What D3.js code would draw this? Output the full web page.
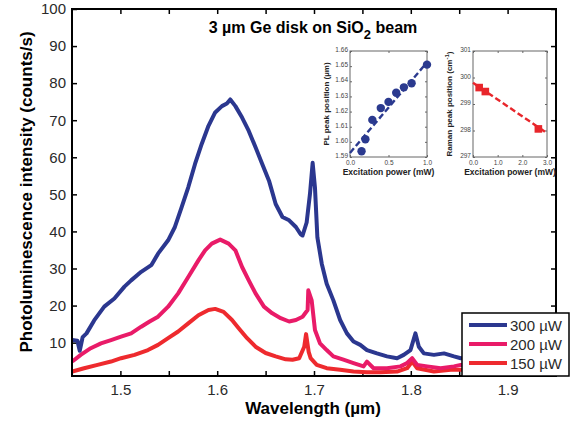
<!DOCTYPE html>
<html>
<head>
<meta charset="utf-8">
<script src="https://cdn.jsdelivr.net/npm/d3@7"></script>
<style>
  body { margin: 0; background: #fff; }
  svg { font-family: "Liberation Sans", Arial, sans-serif; }
</style>
</head>
<body>
<svg id="chart" width="573" height="421"></svg>
<script>
// main spectra (wavelength in um, PL intensity in counts/s)
const wl300 = [1.4503,1.4556,1.458,1.461,1.465,1.4729,1.4833,1.4938,1.5042,1.5111,1.5215,1.5319,1.5389,1.5493,1.5563,1.5632,1.5701,1.5771,1.584,1.591,1.5979,1.6049,1.61,1.6135,1.6188,1.6257,1.6326,1.6396,1.6465,1.6535,1.6604,1.6674,1.6743,1.6813,1.686,1.6882,1.6924,1.6958,1.6986,1.701,1.7035,1.708,1.7131,1.72,1.727,1.734,1.7408,1.7478,1.7547,1.765,1.7754,1.7858,1.7927,1.7997,1.8048,1.8083,1.8135,1.8239,1.8343,1.8446,1.8516,1.88,1.92];
const pl300 = [10.7,10.5,7.8,11.5,12.5,16.0,19.7,21.9,25.1,26.8,29.1,30.9,34.0,37.6,41.2,46.5,51.9,58.2,63.6,68.5,72.1,73.8,74.5,75.6,73.8,70.7,67.1,62.7,58.2,53.7,47.4,43.9,43.0,41.2,39.3,38.9,42.4,50.0,58.5,51.8,38.4,31.3,25.9,21.4,16.1,12.5,10.3,9.4,8.0,7.1,6.3,5.8,6.7,8.0,12.5,8.9,7.1,6.7,7.1,6.3,5.8,5.9,5.6];

const wl200 = [1.4503,1.459,1.4694,1.4799,1.4903,1.5007,1.5111,1.5215,1.5302,1.5389,1.5493,1.5597,1.5701,1.5806,1.5875,1.5944,1.6031,1.6118,1.6188,1.6257,1.6326,1.6396,1.6483,1.6569,1.6656,1.6743,1.6813,1.6882,1.6934,1.6941,1.6976,1.701,1.7062,1.7131,1.72,1.7304,1.7408,1.7512,1.7547,1.7616,1.7754,1.7893,1.7962,1.8014,1.8066,1.817,1.8308,1.8446,1.8516,1.89,1.93];
const pl200 = [4.9,6.7,8.5,9.8,10.7,11.6,12.5,14.3,15.7,17.0,19.7,23.3,27.7,32.2,34.9,36.7,37.8,36.7,34.9,30.4,26.8,23.3,19.7,17.9,16.6,15.7,16.1,17.0,18.8,24.1,21.4,13.4,9.8,8.0,6.3,5.4,4.5,3.6,4.9,3.1,3.1,3.6,4.5,5.8,4.0,3.6,3.1,3.6,4.0,3.8,3.6];

const wl150 = [1.4503,1.4625,1.4764,1.4903,1.5007,1.5146,1.5285,1.5389,1.5493,1.5597,1.5701,1.5806,1.591,1.5979,1.6066,1.6153,1.6222,1.6309,1.6396,1.65,1.6604,1.6708,1.6778,1.6847,1.6899,1.6918,1.6945,1.6965,1.7028,1.7131,1.727,1.7408,1.7547,1.7685,1.7858,1.7962,1.8014,1.8066,1.8239,1.8412,1.8516,1.89,1.93];
const pl150 = [2.2,3.1,4.0,4.9,5.8,6.7,8.0,9.4,11.2,13.0,15.2,17.4,18.8,19.1,18.3,16.1,13.9,11.2,8.9,7.2,6.3,5.5,5.4,5.8,8.9,12.3,7.5,5.8,4.0,3.1,2.7,2.2,2.0,2.0,2.2,3.1,4.9,3.1,2.2,2.7,2.7,2.5,2.4];

const seriesNames = ['300 \u00b5W', '200 \u00b5W', '150 \u00b5W'];
const seriesColors = ['#2b378f', '#e91b68', '#ee2a2e'];

// inset data
const plPower = [0.15, 0.2, 0.29, 0.4, 0.5, 0.6, 0.7, 0.8, 1.0];
const plPeak = [1.5938, 1.6017, 1.6145, 1.6223, 1.6264, 1.6324, 1.636, 1.6387, 1.651];
const plFitPower = [0, 1];
const plFitPeak = [1.5927, 1.6525];

const ramanPower = [0.25, 0.5, 2.65];
const ramanPeak = [299.62, 299.47, 298.06];
const ramanFitPower = [0, 3];
const ramanFitPeak = [299.8, 297.9];

const xTicksMain = [1.5, 1.55, 1.6, 1.65, 1.7, 1.75, 1.8, 1.85, 1.9];
const yTicksMain = [10, 20, 30, 40, 50, 60, 70, 80, 90, 100];

const svg = d3.select('#chart');
const L = 72, R = 556, T = 9, B = 376;

const x = d3.scaleLinear().domain([1.45, 1.95]).range([L, R]);
const y = d3.scaleLinear().domain([1, 100]).range([B, T]);

svg.append('defs').append('clipPath').attr('id', 'clipMain')
  .append('rect').attr('x', L).attr('y', T).attr('width', R - L).attr('height', B - T);

// axes
const fmtX = d => (Math.abs(d * 10 - Math.round(d * 10)) < 1e-6) ? d.toFixed(1) : '';

svg.append('g').attr('transform', `translate(0,${B})`)
  .call(d3.axisBottom(x).tickValues(xTicksMain).tickSize(-5).tickPadding(8).tickFormat(fmtX))
  .call(g => g.select('.domain').remove())
  .call(g => g.selectAll('text').attr('font-size', 15).attr('fill', '#2a2a2a'));

svg.append('g').attr('transform', `translate(0,${T})`)
  .call(d3.axisTop(x).tickValues(xTicksMain).tickSize(-5).tickFormat(''))
  .call(g => g.select('.domain').remove());

svg.append('g').attr('transform', `translate(${L},0)`)
  .call(d3.axisLeft(y).tickValues(yTicksMain).tickSize(-5).tickPadding(6))
  .call(g => g.select('.domain').remove())
  .call(g => g.selectAll('text').attr('font-size', 15).attr('fill', '#2a2a2a'));

svg.append('g').attr('transform', `translate(${R},0)`)
  .call(d3.axisRight(y).tickValues(yTicksMain).tickSize(-5).tickFormat(''))
  .call(g => g.select('.domain').remove());

svg.selectAll('.tick line').attr('stroke', '#000').attr('stroke-width', 1.5);

// spectra
const line = d3.line().x(d => x(d[0])).y(d => y(d[1]));
const series = [
  d3.zip(wl300, pl300),
  d3.zip(wl200, pl200),
  d3.zip(wl150, pl150)
];

svg.append('g').attr('clip-path', 'url(#clipMain)')
  .selectAll('path').data(series.slice().reverse()).enter()
  .append('path')
  .attr('d', line)
  .attr('fill', 'none')
  .attr('stroke', (d, i) => seriesColors[2 - i])
  .attr('stroke-width', 4)
  .attr('stroke-linejoin', 'round');

svg.append('rect')
  .attr('x', L).attr('y', T).attr('width', R - L).attr('height', B - T)
  .attr('fill', 'none').attr('stroke', '#000').attr('stroke-width', 2);

// title
const title = svg.append('text')
  .attr('x', 313).attr('y', 33)
  .attr('text-anchor', 'middle')
  .attr('font-size', 16).attr('font-weight', 'bold');
title.append('tspan').text('3 \u00b5m Ge disk on SiO');
title.append('tspan').attr('dy', 6).attr('font-size', 13).text('2');
title.append('tspan').attr('dy', -6).text(' beam');

// axis titles
svg.append('text')
  .attr('transform', 'translate(32,192) rotate(-90)')
  .attr('text-anchor', 'middle')
  .attr('font-size', 17).attr('font-weight', 'bold')
  .text('Photoluminescence intensity (counts/s)');

svg.append('text')
  .attr('x', 313).attr('y', 414)
  .attr('text-anchor', 'middle')
  .attr('font-size', 17).attr('font-weight', 'bold')
  .text('Wavelength (\u00b5m)');

// legend
const leg = svg.append('g');
leg.append('rect')
  .attr('x', 462).attr('y', 313).attr('width', 107).attr('height', 63)
  .attr('fill', '#fff').attr('stroke', '#000').attr('stroke-width', 1.5);
seriesNames.forEach((name, i) => {
  const yy = 325 + i * 19;
  leg.append('line')
    .attr('x1', 469).attr('x2', 507).attr('y1', yy).attr('y2', yy)
    .attr('stroke', seriesColors[i]).attr('stroke-width', 4);
  leg.append('text')
    .attr('x', 510).attr('y', yy + 5.5)
    .attr('font-size', 15).attr('fill', '#2a2a2a')
    .text(name);
});

// insets
function inset(opts) {
  const g = svg.append('g');
  const ix = d3.scaleLinear().domain(opts.xDomain).range([opts.left, opts.right]);
  const iy = d3.scaleLinear().domain(opts.yDomain).range([opts.bottom, opts.top]);

  g.append('rect')
    .attr('x', opts.left).attr('y', opts.top)
    .attr('width', opts.right - opts.left).attr('height', opts.bottom - opts.top)
    .attr('fill', '#fff').attr('stroke', '#666').attr('stroke-width', 1);

  g.append('g').attr('transform', `translate(0,${opts.bottom})`)
    .call(d3.axisBottom(ix).tickValues(opts.xTicks).tickSize(-2).tickPadding(3).tickFormat(d3.format('.1f')))
    .call(a => a.select('.domain').remove());
  g.append('g').attr('transform', `translate(0,${opts.top})`)
    .call(d3.axisTop(ix).tickValues(opts.xTicks).tickSize(-2).tickFormat(''))
    .call(a => a.select('.domain').remove());
  g.append('g').attr('transform', `translate(${opts.left},0)`)
    .call(d3.axisLeft(iy).tickValues(opts.yTicks).tickSize(-2).tickPadding(2).tickFormat(opts.yFormat))
    .call(a => a.select('.domain').remove())
    .call(a => a.selectAll('.tick text').attr('dy', '0.1em'));
  g.append('g').attr('transform', `translate(${opts.right},0)`)
    .call(d3.axisRight(iy).tickValues(opts.yTicks).tickSize(-2).tickFormat(''))
    .call(a => a.select('.domain').remove());
  g.selectAll('.tick line').attr('stroke', '#666');
  g.selectAll('.tick text').attr('font-size', 6.5).attr('fill', '#444');

  g.append('path')
    .datum(d3.zip(opts.fitX, opts.fitY))
    .attr('d', d3.line().x(d => ix(d[0])).y(d => iy(d[1])))
    .attr('fill', 'none').attr('stroke', opts.color)
    .attr('stroke-width', 2.4).attr('stroke-dasharray', '6,3');

  const pts = d3.zip(opts.px, opts.py);
  if (opts.marker === 'circle') {
    g.selectAll('circle.pt').data(pts).enter().append('circle')
      .attr('cx', d => ix(d[0])).attr('cy', d => iy(d[1])).attr('r', 4.2)
      .attr('fill', opts.color);
  } else {
    g.selectAll('rect.pt').data(pts).enter().append('rect')
      .attr('x', d => ix(d[0]) - 3.8).attr('y', d => iy(d[1]) - 3.8)
      .attr('width', 7.6).attr('height', 7.6)
      .attr('fill', opts.color);
  }

  g.append('text')
    .attr('x', (opts.left + opts.right) / 2).attr('y', opts.bottom + 18)
    .attr('text-anchor', 'middle').attr('font-size', 8.5).attr('font-weight', 'bold')
    .attr('fill', '#222')
    .text('Excitation power (mW)');

  const yl = g.append('text')
    .attr('transform', `translate(${opts.left - 21},${(opts.top + opts.bottom) / 2}) rotate(-90)`)
    .attr('text-anchor', 'middle').attr('font-size', 8).attr('font-weight', 'bold')
    .attr('fill', '#222');
  opts.yLabel(yl);
}

inset({
  left: 350, right: 427, top: 51, bottom: 157,
  xDomain: [0, 1], yDomain: [1.59, 1.66],
  xTicks: [0, 0.5, 1], yTicks: [1.59, 1.6, 1.61, 1.62, 1.63, 1.64, 1.65, 1.66],
  yFormat: d3.format('.2f'),
  px: plPower, py: plPeak, fitX: plFitPower, fitY: plFitPeak,
  color: '#2b3a8f', marker: 'circle',
  yLabel: t => t.text('PL  peak position (\u00b5m)')
});

inset({
  left: 473, right: 547, top: 51, bottom: 157,
  xDomain: [0, 3], yDomain: [297, 301],
  xTicks: [0, 1, 2, 3], yTicks: [297, 298, 299, 300, 301],
  yFormat: d3.format('d'),
  px: ramanPower, py: ramanPeak, fitX: ramanFitPower, fitY: ramanFitPeak,
  color: '#e8262b', marker: 'square',
  yLabel: t => {
    t.append('tspan').text('Raman peak position (cm');
    t.append('tspan').attr('dy', -3).attr('font-size', 6).text('-1');
    t.append('tspan').attr('dy', 3).text(')');
  }
});
</script>
</body>
</html>
